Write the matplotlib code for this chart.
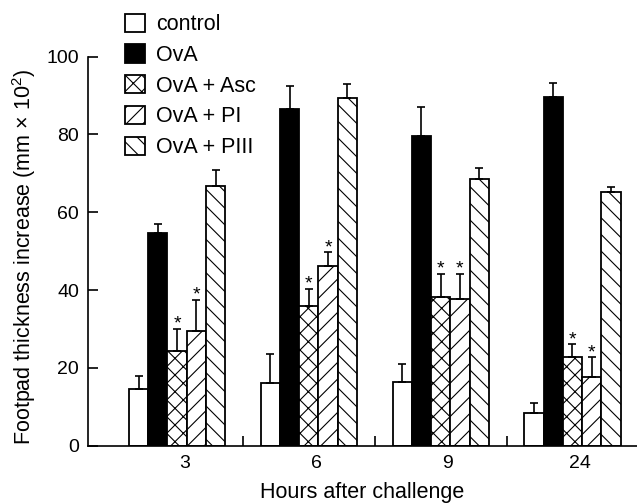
import numpy as np
import matplotlib
matplotlib.use('Agg')
import matplotlib.pyplot as plt

plt.rcParams['font.family'] = ['Liberation Sans', 'DejaVu Sans']
plt.rcParams['mathtext.fontset'] = 'custom'
plt.rcParams['mathtext.rm'] = 'Liberation Sans'
plt.rcParams['hatch.linewidth'] = 0.8

hours = ['3', '6', '9', '24']
groups = ['control', 'OvA', 'OvA + Asc', 'OvA + PI', 'OvA + PIII']

control = [14.7, 16.2, 16.4, 8.3]
control_err = [3.2, 7.4, 4.6, 2.7]
ova = [54.8, 86.6, 79.7, 89.7]
ova_err = [2.2, 5.9, 7.4, 3.6]
asc = [24.4, 35.8, 38.3, 22.7]
asc_err = [5.7, 4.6, 5.9, 3.4]
pi = [29.6, 46.2, 37.7, 17.6]
pi_err = [7.9, 3.5, 6.5, 5.1]
piii = [66.8, 89.3, 68.6, 65.1]
piii_err = [4.0, 3.7, 2.7, 1.3]

# groups marked with * (p < 0.05 vs OvA)
significant = ['OvA + Asc', 'OvA + PI']

means = [control, ova, asc, pi, piii]
errs = [control_err, ova_err, asc_err, pi_err, piii_err]
faces = ['white', 'black', 'white', 'white', 'white']
hatches = [None, None, 'xx', '//', '\\\\']

fig = plt.figure(figsize=(6.37, 5.04), dpi=100)
ax = fig.add_axes([0.1381, 0.1157, 0.862, 0.7718])

x = np.arange(len(hours))
w = 0.146
for i, g in enumerate(groups):
    xi = x + (i - 2) * w
    ax.bar(xi, means[i], w, color=faces[i], edgecolor='black', linewidth=1.3,
           hatch=hatches[i], label=g, zorder=2)
    top = np.array(means[i])
    ax.errorbar(xi, top, yerr=[np.zeros(len(top)), errs[i]], fmt='none',
                ecolor='black', elinewidth=1.2, capsize=3, capthick=1.2, zorder=3)
    if g in significant:
        for xx, yy in zip(xi, top + np.array(errs[i])):
            ax.annotate('*', (xx, yy), xytext=(0, 0), textcoords='offset points',
                        ha='center', va='baseline', fontsize=14)

ax.set_xlim(-0.676, 3.49)
ax.set_ylim(0, 100)
ax.set_xticks(x + 0.055)
ax.set_xticklabels(hours)
ax.set_xticks(x[:-1] + 0.5, minor=True)
ax.set_yticks([0, 20, 40, 60, 80, 100])
ax.tick_params(axis='x', which='major', length=0, pad=7, labelsize=14)
ax.tick_params(axis='x', which='minor', direction='in', length=7, width=1.2)
ax.tick_params(axis='y', direction='in', length=7, width=1.2, pad=6.5, labelsize=14)

for s in ['top', 'right']:
    ax.spines[s].set_visible(False)
for s in ['left', 'bottom']:
    ax.spines[s].set_linewidth(1.2)

ax.set_xlabel('Hours after challenge', fontsize=15.5, labelpad=7)
ax.set_ylabel(r'Footpad thickness increase (mm $\times$ 10$^2$)', fontsize=15.5, labelpad=6)
ax.yaxis.label.set_y(0.485)

ax.legend(loc='upper left', bbox_to_anchor=(125 / 637, 1 - 13.5 / 504),
          bbox_transform=fig.transFigure, frameon=False, fontsize=15.5,
          borderpad=0, borderaxespad=0, handlelength=0.93, handleheight=0.93,
          labelspacing=0.43, handletextpad=0.53)

fig.savefig('out.png', dpi=100)
